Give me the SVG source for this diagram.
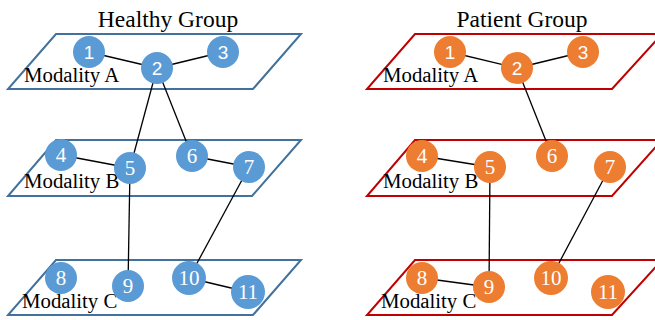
<svg xmlns="http://www.w3.org/2000/svg" width="655" height="320" viewBox="0 0 655 320">
<style>
.title{font-family:"Liberation Serif","Times New Roman",serif;font-size:23.5px;fill:#000;text-anchor:middle}
.mod{font-family:"Liberation Serif","Times New Roman",serif;font-size:20.8px;fill:#000}
.ph{fill:#fff;stroke:#41719C;stroke-width:2}
.pp{fill:#fff;stroke:#C00000;stroke-width:2}
.nh{fill:#5B9BD5}
.np{fill:#ED7D31}
.ls{font-family:"Liberation Sans",Arial,sans-serif;font-size:19px;fill:#fff;text-anchor:middle}
.lr{font-family:"Liberation Serif","Times New Roman",serif;font-size:21px;fill:#fff;text-anchor:middle}
.e{stroke:#000;stroke-width:1.3;fill:none}
</style>
<rect width="655" height="320" fill="#fff"/>
<text class="title" x="168" y="27">Healthy Group</text>
<text class="title" x="522" y="27">Patient Group</text>
<g id="planes">
<polygon class="ph" points="56,34 301,34 253,89 8,89"/>
<polygon class="ph" points="56,140 301,140 252,196 8,196"/>
<polygon class="ph" points="56,260 301,260 253,315 8,315"/>
<polygon class="pp" points="415,34 662,34 612,89 367,89"/>
<polygon class="pp" points="415,140 662,140 612,196 367,196"/>
<polygon class="pp" points="415,260 662,260 612,315 367,315"/>
</g>
<g id="labels">
<text class="mod" x="24" y="82">Modality A</text>
<text class="mod" x="24" y="188">Modality B</text>
<text class="mod" x="22" y="308">Modality C</text>
<text class="mod" x="383" y="82">Modality A</text>
<text class="mod" x="383" y="188">Modality B</text>
<text class="mod" x="381" y="308">Modality C</text>
</g>
<g id="connectors">
<line class="e" x1="89" y1="52" x2="157" y2="68"/>
<line class="e" x1="157" y1="68" x2="223" y2="52"/>
<line class="e" x1="157" y1="68" x2="130" y2="168"/>
<line class="e" x1="157" y1="68" x2="192" y2="156"/>
<line class="e" x1="61" y1="155" x2="130" y2="168"/>
<line class="e" x1="192" y1="156" x2="249" y2="167"/>
<line class="e" x1="130" y1="168" x2="128" y2="286"/>
<line class="e" x1="249" y1="167" x2="189" y2="278"/>
<line class="e" x1="189" y1="278" x2="248" y2="292"/>
<line class="e" x1="450" y1="52" x2="517" y2="68"/>
<line class="e" x1="517" y1="68" x2="583" y2="52"/>
<line class="e" x1="517" y1="68" x2="552" y2="156"/>
<line class="e" x1="422" y1="156" x2="490" y2="167"/>
<line class="e" x1="490" y1="167" x2="489" y2="287"/>
<line class="e" x1="610" y1="167" x2="551" y2="278"/>
<line class="e" x1="422" y1="278" x2="489" y2="287"/>
</g>
<g id="h1"><circle class="nh" cx="89" cy="52" r="16"/><text class="ls" x="89" y="59">1</text></g>
<g id="h2"><circle class="nh" cx="157" cy="68" r="16"/><text class="ls" x="157" y="75">2</text></g>
<g id="h3"><circle class="nh" cx="223" cy="52" r="16"/><text class="ls" x="223" y="59">3</text></g>
<g id="h4"><circle class="nh" cx="61" cy="155" r="16"/><text class="lr" x="61" y="162">4</text></g>
<g id="h5"><circle class="nh" cx="130" cy="168" r="16"/><text class="lr" x="130" y="175">5</text></g>
<g id="h6"><circle class="nh" cx="192" cy="156" r="16"/><text class="lr" x="192" y="163">6</text></g>
<g id="h7"><circle class="nh" cx="249" cy="167" r="16"/><text class="lr" x="249" y="174">7</text></g>
<g id="h8"><circle class="nh" cx="61" cy="278" r="16"/><text class="lr" x="61" y="285">8</text></g>
<g id="h9"><circle class="nh" cx="128" cy="286" r="16"/><text class="lr" x="128" y="293">9</text></g>
<g id="h10"><circle class="nh" cx="189" cy="278" r="17"/><text class="lr" x="189" y="285">10</text></g>
<g id="h11"><circle class="nh" cx="248" cy="292" r="17"/><text class="lr" x="248" y="299">11</text></g>
<g id="p1"><circle class="np" cx="450" cy="52" r="16"/><text class="ls" x="450" y="59">1</text></g>
<g id="p2"><circle class="np" cx="517" cy="68" r="16"/><text class="ls" x="517" y="75">2</text></g>
<g id="p3"><circle class="np" cx="583" cy="52" r="16"/><text class="ls" x="583" y="59">3</text></g>
<g id="p4"><circle class="np" cx="422" cy="156" r="16"/><text class="lr" x="422" y="163">4</text></g>
<g id="p5"><circle class="np" cx="490" cy="167" r="16"/><text class="lr" x="490" y="174">5</text></g>
<g id="p6"><circle class="np" cx="552" cy="156" r="16"/><text class="lr" x="552" y="163">6</text></g>
<g id="p7"><circle class="np" cx="610" cy="167" r="16"/><text class="lr" x="610" y="174">7</text></g>
<g id="p8"><circle class="np" cx="422" cy="278" r="16"/><text class="lr" x="422" y="285">8</text></g>
<g id="p9"><circle class="np" cx="489" cy="287" r="16"/><text class="lr" x="489" y="294">9</text></g>
<g id="p10"><circle class="np" cx="551" cy="278" r="17"/><text class="lr" x="551" y="285">10</text></g>
<g id="p11"><circle class="np" cx="608" cy="292" r="17"/><text class="lr" x="608" y="299">11</text></g>
</svg>
